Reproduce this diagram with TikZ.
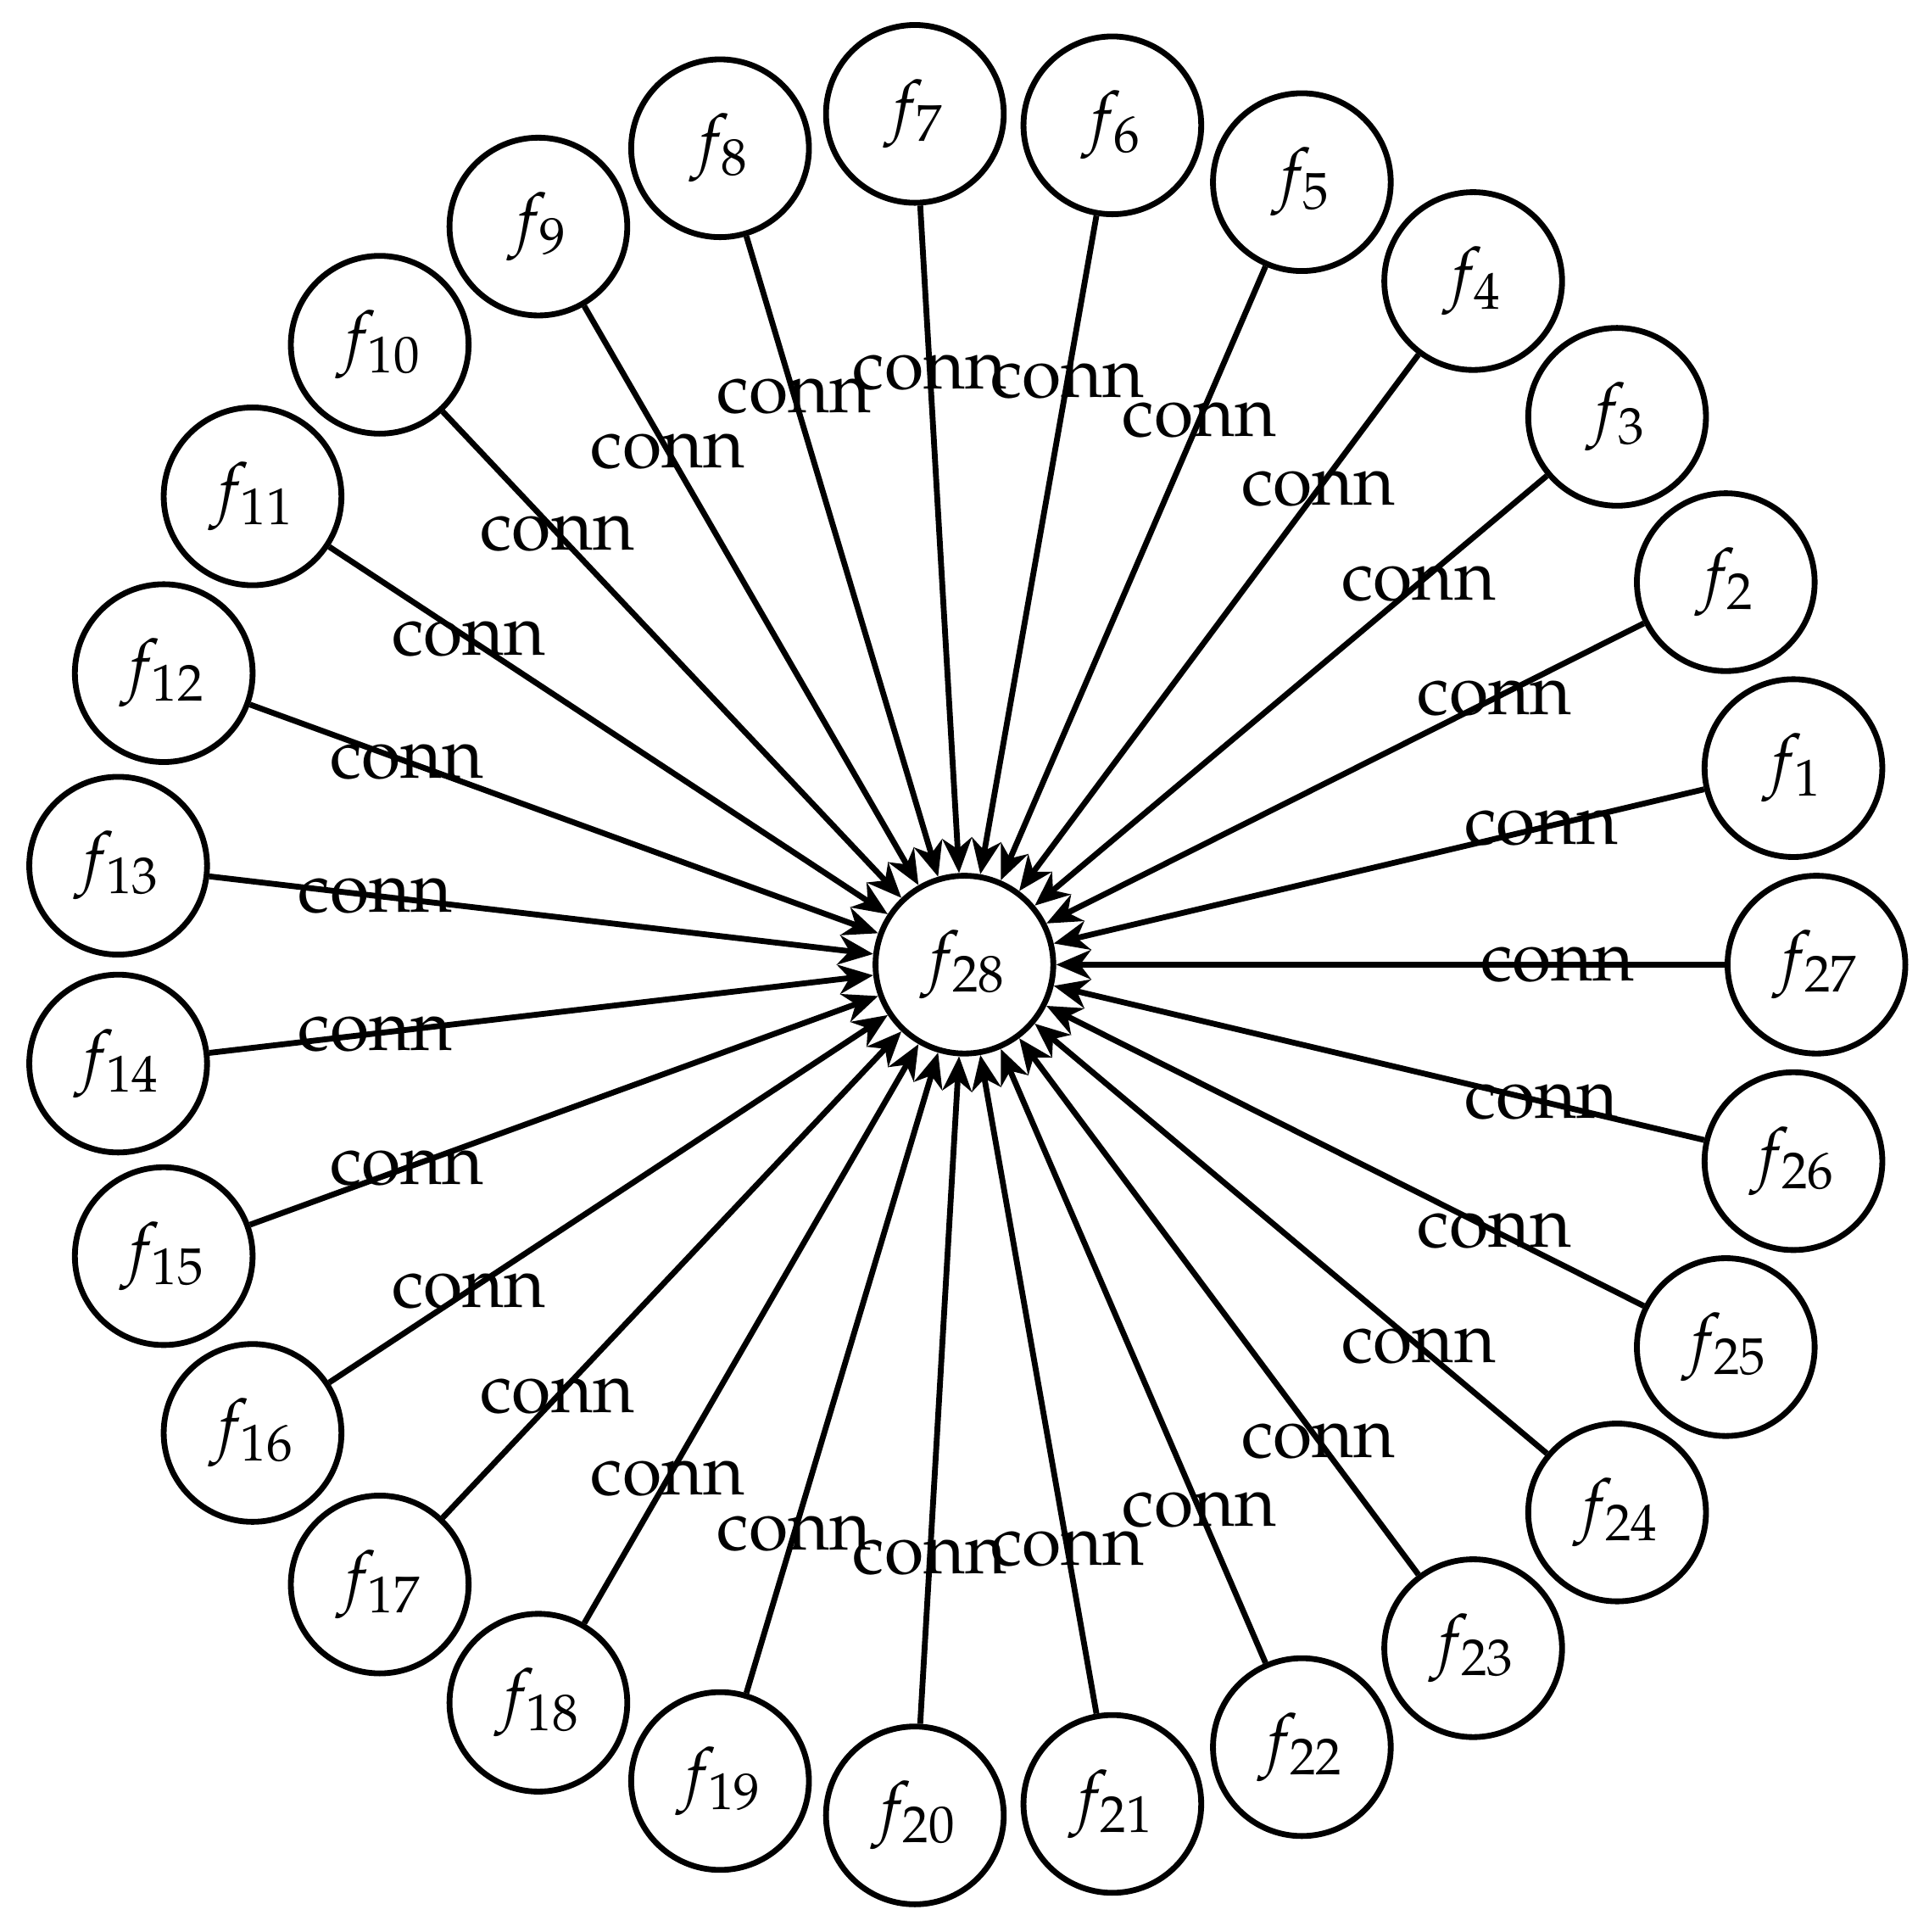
\documentclass[tikz,border=0pt]{standalone}
\usepackage[T1]{fontenc}
\usepackage{mathpazo}
\usetikzlibrary{arrows.meta}
\begin{document}
\begin{tikzpicture}[
  fnode/.style={circle, draw, line width=0.85pt, minimum size=26.1pt, inner sep=0pt},
  connedge/.style={line width=0.85pt, -{Stealth[length=5.1pt,width=4.3pt,inset=1.6pt]}},
  lbl/.style={inner sep=0pt, pos=0.25, font=\fontsize{10.5}{12}\selectfont}
]
\useasboundingbox (-141.6pt,-142pt) rectangle (141.6pt,141.6pt);
\node[fnode] (f28) at (0,0) {$f_{28}$};
\foreach \i in {1,...,27} {
  \node[fnode] (f\i) at ({\i*360/27}:125.1pt) {$f_{\i}$};
  \draw[connedge] (f\i) -- node[lbl] (l\i) {conn} (f28);
}
\end{tikzpicture}
\end{document}
